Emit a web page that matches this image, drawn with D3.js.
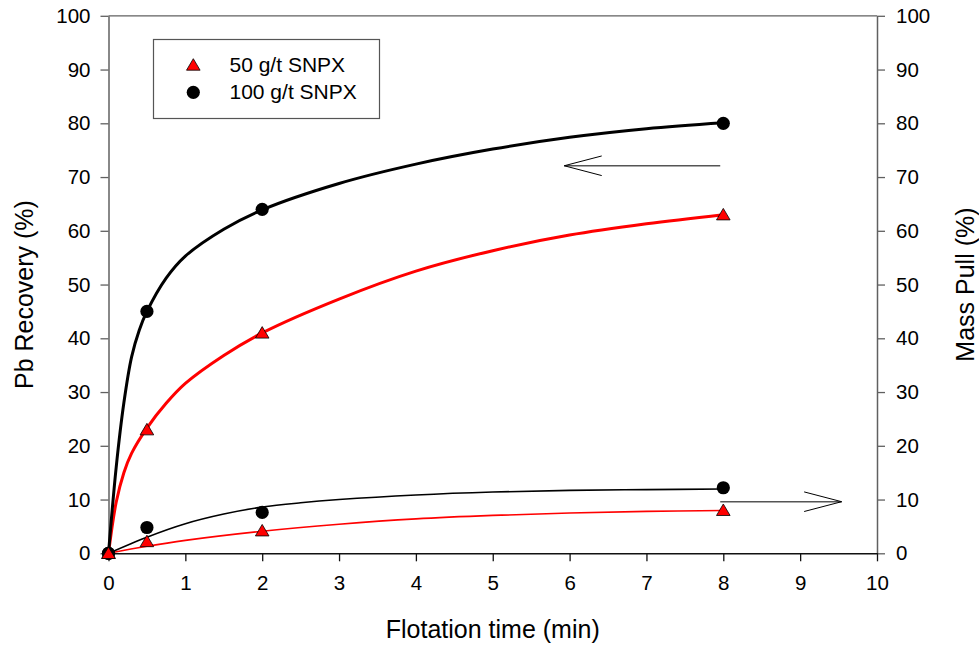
<!DOCTYPE html>
<html><head><meta charset="utf-8">
<script src="https://cdn.jsdelivr.net/npm/d3@7"></script>
<style>body{margin:0;background:#fff} svg{display:block} text{font-family:"Liberation Sans",Arial,sans-serif}</style>
</head><body><svg id="c" width="979" height="648"></svg>
<script>
// ---- data ----
const times = [0, 0.5, 2, 8];
const rec50 = [0, 23, 41, 63];
const rec100 = [0, 45, 64, 80];
const mass50 = [0, 2.2, 4.2, 8.0];
const mass100 = [0, 4.8, 7.6, 12.2];

// fitted curves
const fitRec100T = [0, 0.1, 0.2, 0.3, 0.4, 0.5, 0.75, 1, 1.5, 2, 3, 4, 5, 6, 7, 8];
const fitRec100V = [0, 16, 28, 36.5, 41.5, 45, 51.2, 55.3, 60.3, 63.9, 68.8, 72.4, 75.2, 77.4, 79, 80.1];
const fitRec50T = [0, 0.1, 0.2, 0.3, 0.5, 0.75, 1, 1.5, 2, 3, 4, 5, 6, 7, 8];
const fitRec50V = [0, 9.5, 15, 18.6, 23.3, 27.9, 31.6, 36.8, 41, 47.3, 52.5, 56.3, 59.2, 61.3, 63];
const fitMass100T = [0, 0.5, 1, 1.5, 2, 2.5, 3, 4, 5, 6, 7, 8];
const fitMass100V = [0, 3.0, 5.5, 7.3, 8.6, 9.4, 10.0, 10.85, 11.4, 11.7, 11.85, 11.95];
const fitMass50T = [0, 0.5, 1, 2, 3, 4, 5, 6, 7, 8];
const fitMass50V = [0, 1.3, 2.4, 4.1, 5.4, 6.4, 7.05, 7.5, 7.8, 7.95];

const xTicks = [0,1,2,3,4,5,6,7,8,9,10];
const yTicks = [0,10,20,30,40,50,60,70,80,90,100];
const legendLabels = ["50 g/t SNPX", "100 g/t SNPX"];
const xTitle = "Flotation time (min)";
const yLeftTitle = "Pb Recovery (%)";
const yRightTitle = "Mass Pull (%)";
// annotation arrows in data units [t, value]
const arrowLeftFrom = [7.96, 72.1], arrowLeftTo = [5.93, 72.1];
const arrowRightFrom = [7.96, 9.6], arrowRightTo = [9.54, 9.6];

// ---- drawing ----
const svg = d3.select("#c");
const L = 108.5, R = 877, T = 15.8, B = 553.3;
const x = d3.scaleLinear([0, 10], [L, R]);
const yL = d3.scaleLinear([0, 100], [B, T]);
const yR = d3.scaleLinear([0, 100], [B, T]);
const axisGray = "#606060";
const tickFont = "20.5px";

// top frame
svg.append("line").attr("x1", L).attr("x2", R).attr("y1", T).attr("y2", T)
  .attr("stroke", axisGray).attr("stroke-width", 1.3);

function styleAxis(g, col) {
  g.select(".domain").attr("stroke", col).attr("stroke-width", 1.5);
  g.selectAll(".tick line").attr("stroke", col).attr("stroke-width", 1.3);
  g.selectAll(".tick text").attr("fill", "#000").style("font-size", tickFont)
    .style("font-family", '"Liberation Sans",Arial,sans-serif');
}
svg.append("g").attr("transform", `translate(${L},0)`)
  .call(d3.axisLeft(yL).tickValues(yTicks).tickSize(8).tickSizeOuter(0).tickPadding(10))
  .call(g => styleAxis(g, axisGray));
svg.append("g").attr("transform", `translate(${R},0)`)
  .call(d3.axisRight(yR).tickValues(yTicks).tickSize(8).tickSizeOuter(0).tickPadding(11))
  .call(g => styleAxis(g, axisGray));
svg.append("g").attr("transform", `translate(0,${B})`)
  .call(d3.axisBottom(x).tickValues(xTicks).tickSize(8).tickSizeOuter(0).tickPadding(14))
  .call(g => styleAxis(g, "#111"));

// titles
svg.append("text").attr("x", (L + R) / 2).attr("y", 637.5).attr("text-anchor", "middle")
  .style("font-size", "25px").text(xTitle);
svg.append("text").attr("transform", `translate(33,${(T + B) / 2 + 10}) rotate(-90)`).attr("text-anchor", "middle")
  .style("font-size", "25px").text(yLeftTitle);
svg.append("text").attr("transform", `translate(974,${(T + B) / 2}) rotate(-90)`).attr("text-anchor", "middle")
  .style("font-size", "25px").text(yRightTitle);

// curves
function curve(ts, vs, ys, color, w) {
  const pts = ts.map((t, i) => [t, vs[i]]);
  svg.append("path").datum(pts)
    .attr("d", d3.line().x(d => x(d[0])).y(d => ys(d[1])).curve(d3.curveCatmullRom.alpha(0.5)))
    .attr("fill", "none").attr("stroke", color).attr("stroke-width", w);
}
curve(fitMass50T, fitMass50V, yR, "#ff0000", 1.6);
curve(fitMass100T, fitMass100V, yR, "#000", 1.6);
curve(fitRec50T, fitRec50V, yL, "#ff0000", 3);
curve(fitRec100T, fitRec100V, yL, "#000", 3);

// arrows
function arrow(from, to, ys) {
  const x1 = x(from[0]), x2 = x(to[0]), yy = ys(from[1]);
  svg.append("line").attr("x1", x1).attr("x2", x2).attr("y1", yy).attr("y2", yy)
    .attr("stroke", "#555").attr("stroke-width", 1.6);
  const dir = Math.sign(x1 - x2);
  svg.append("path").attr("d", `M${x2 + dir * 37.5},${yy - 9.8}L${x2},${yy}L${x2 + dir * 37.5},${yy + 9.8}`)
    .attr("fill", "none").attr("stroke", "#000").attr("stroke-width", 1);
}
arrow(arrowLeftFrom, arrowLeftTo, yL);
arrow(arrowRightFrom, arrowRightTo, yR);

// markers
const tri = "M0,-6.3L6.8,5.2L-6.8,5.2Z";
function circles(vs, ys) {
  svg.append("g").selectAll("circle").data(times.map((t, i) => [t, vs[i]])).join("circle")
    .attr("cx", d => x(d[0])).attr("cy", d => ys(d[1])).attr("r", 6.6).attr("fill", "#000");
}
function triangles(vs, ys) {
  svg.append("g").selectAll("path").data(times.map((t, i) => [t, vs[i]])).join("path")
    .attr("transform", d => `translate(${x(d[0])},${ys(d[1])})`).attr("d", tri)
    .attr("fill", "#ff0000").attr("stroke", "#000").attr("stroke-width", 0.8);
}
circles(mass100, yR);
triangles(mass50, yR);
circles(rec100, yL);
triangles(rec50, yL);

// legend
const lg = svg.append("g");
lg.append("rect").attr("x", 153.5).attr("y", 39.5).attr("width", 226).attr("height", 79)
  .attr("fill", "#fff").attr("stroke", "#555").attr("stroke-width", 1.2);
lg.append("path").attr("transform", "translate(193.3,65)").attr("d", tri)
  .attr("fill", "#ff0000").attr("stroke", "#000").attr("stroke-width", 0.8);
lg.append("circle").attr("cx", 193.3).attr("cy", 92.3).attr("r", 6.6).attr("fill", "#000");
lg.selectAll("text").data(legendLabels).join("text")
  .attr("x", 229.5).attr("y", (d, i) => 72.3 + i * 27).style("font-size", "21px").text(d => d);
</script></body></html>
